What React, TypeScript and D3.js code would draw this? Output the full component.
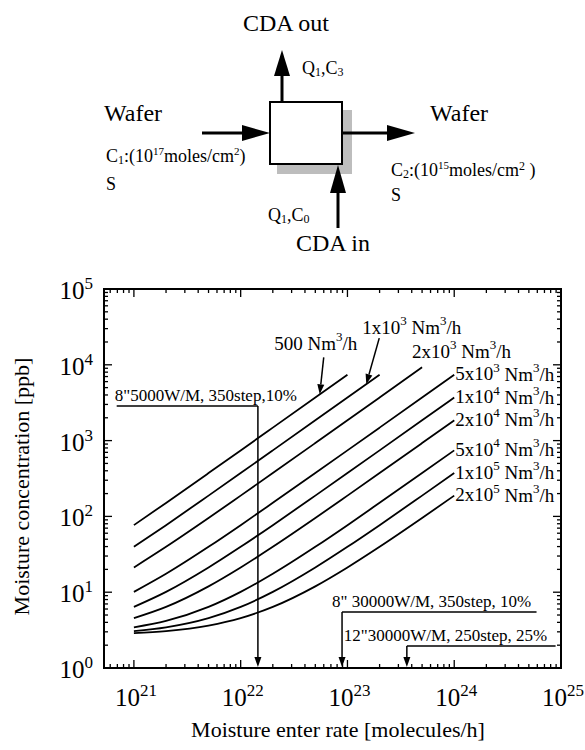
import React from 'react';
import * as d3 from 'd3';

const serif = '"Liberation Serif", "Times New Roman", Times, serif';

// Moisture enter rate [molecules/h] sample points
const rates = [1e21, 2e21, 5e21, 1e22, 2e22, 5e22, 1e23, 2e23, 5e23, 1e24];
// Moisture concentration [ppb] per CDA flow
const conc500 = [76.7, 150.7, 372.7, 742.7, 1483, 3703, 7403];
const conc1k = [39.7, 76.7, 188, 373, 743, 1853, 3703, 7403];
const conc2k = [21.2, 39.7, 95.2, 188, 373, 928, 1853, 3703, 9253];
const conc5k = [10.1, 17.5, 39.7, 76.7, 151, 373, 743, 1483, 3703, 7403];
const conc10k = [6.4, 10.1, 21.2, 39.7, 76.7, 188, 373, 743, 1853, 3703];
const conc20k = [4.55, 6.4, 11.95, 21.2, 39.7, 95.2, 188, 373, 928, 1853];
const conc50k = [3.44, 4.18, 6.4, 10.1, 17.5, 39.7, 76.7, 151, 373, 743];
const conc100k = [3.07, 3.44, 4.55, 6.4, 10.1, 21.2, 39.7, 76.7, 188, 373];
const conc200k = [2.885, 3.07, 3.63, 4.55, 6.4, 11.95, 21.2, 39.7, 95.2, 188];

const seriesList = [conc500, conc1k, conc2k, conc5k, conc10k, conc20k, conc50k, conc100k, conc200k];
const flowCoef = ['500', '1x10', '2x10', '5x10', '1x10', '2x10', '5x10', '1x10', '2x10'];
const flowExp = ['', '3', '3', '3', '4', '4', '4', '5', '5'];

// arrow targets on the 500 and 1x10^3 curves
const arrowRate = [5.5e22, 1.5e23];
const arrowConc = [4073, 5553];

// annotation (production conditions)
const annoText = ['8"5000W/M, 350step,10%', '8" 30000W/M, 350step, 10%', '12"30000W/M, 250step, 25%'];
const annoRate = [1.45e22, 8.9e22, 3.6e23];
const annoLevel = [2860, 5.48, 1.95];
const annoFrom = [6.9e20, 8.9e22, 3.6e23];
const annoTo = [1.45e22, 5.9e24, 8.9e24];

const xTickExp = [21, 22, 23, 24, 25];
const yTickExp = [0, 1, 2, 3, 4, 5];

const x = d3.scaleLog().domain([Math.pow(10, 20.72), 1e25]).range([104, 561]);
const y = d3.scaleLog().domain([1, 1e5]).range([668, 289]);

const line = d3
  .line<[number, number]>()
  .x((d) => x(d[0]))
  .y((d) => y(d[1]))
  .curve(d3.curveMonotoneX);

function Arrow({ x1, y1, x2, y2, len = 10, half = 3.5, w = 1.5 }: any) {
  const a = Math.atan2(y2 - y1, x2 - x1);
  const bx = x2 - len * Math.cos(a);
  const by = y2 - len * Math.sin(a);
  const px = -Math.sin(a) * half;
  const py = Math.cos(a) * half;
  return (
    <g>
      <line x1={x1} y1={y1} x2={bx} y2={by} stroke="#000" strokeWidth={w} />
      <path d={`M${x2},${y2}L${bx + px},${by + py}L${bx - px},${by - py}Z`} fill="#000" />
    </g>
  );
}

function Diagram() {
  return (
    <g fill="#000">
      <text x={286} y={31} fontSize={24} textAnchor="middle">CDA out</text>
      {/* shading */}
      <rect x={342} y={110} width={10} height={64} fill="#bdbdbd" />
      <rect x={277} y={164} width={75} height={10} fill="#bdbdbd" />
      <rect x={270} y={102} width={72} height={62} fill="#fff" stroke="#000" strokeWidth={2} />
      <Arrow x1={282} y1={102} x2={282} y2={50} len={26} half={8} w={3} />
      <text x={302} y={74} fontSize={18}>Q<tspan fontSize={12} dy={2}>1</tspan><tspan dy={-2}>,C</tspan><tspan fontSize={12} dy={2}>3</tspan></text>
      <Arrow x1={202} y1={133} x2={270} y2={133} len={28} half={8} w={3} />
      <text x={104} y={121} fontSize={24}>Wafer</text>
      <text x={106} y={162} fontSize={18}>C<tspan fontSize={12} dy={2}>1</tspan><tspan dy={-2}>:(10</tspan><tspan fontSize={11} dy={-7}>17</tspan><tspan dy={7}>moles/cm</tspan><tspan fontSize={11} dy={-7}>2</tspan><tspan dy={7}>)</tspan></text>
      <text x={106} y={190} fontSize={18}>S</text>
      <Arrow x1={342} y1={133} x2={415} y2={133} len={28} half={8} w={3} />
      <text x={430} y={121} fontSize={24}>Wafer</text>
      <text x={391} y={176} fontSize={18}>C<tspan fontSize={12} dy={2}>2</tspan><tspan dy={-2}>:(10</tspan><tspan fontSize={11} dy={-7}>15</tspan><tspan dy={7}>moles/cm</tspan><tspan fontSize={12} dy={-6}>2</tspan><tspan dy={6}> )</tspan></text>
      <text x={391} y={201} fontSize={18}>S</text>
      <Arrow x1={338} y1={228} x2={338} y2={165} len={28} half={8} w={3} />
      <text x={268} y={221} fontSize={18}>Q<tspan fontSize={12} dy={2}>1</tspan><tspan dy={-2}>,C</tspan><tspan fontSize={12} dy={2}>0</tspan></text>
      <text x={333} y={251} fontSize={24} textAnchor="middle">CDA in</text>
    </g>
  );
}

function Axes() {
  const [x0, x1] = x.range();
  const [yb, yt] = y.range();
  const els: any[] = [];
  const xd = x.domain();
  for (let e = 20; e <= 25; e++) {
    for (let m = 1; m <= 9; m++) {
      const v = m * Math.pow(10, e);
      if (v < xd[0] * 0.999 || v > xd[1] * 1.001) continue;
      const px = x(v);
      const L = m === 1 ? 8 : 4;
      els.push(<line key={`xb${e}${m}`} x1={px} x2={px} y1={yb} y2={yb - L} stroke="#000" strokeWidth={1.3} />);
      els.push(<line key={`xt${e}${m}`} x1={px} x2={px} y1={yt} y2={yt + L} stroke="#000" strokeWidth={1.3} />);
    }
  }
  for (let e = 0; e <= 5; e++) {
    for (let m = 1; m <= 9; m++) {
      const v = m * Math.pow(10, e);
      if (v > 1e5 * 1.001) continue;
      const py = y(v);
      const L = m === 1 ? 8 : 4;
      els.push(<line key={`yl${e}${m}`} x1={x0} x2={x0 + L} y1={py} y2={py} stroke="#000" strokeWidth={1.3} />);
      els.push(<line key={`yr${e}${m}`} x1={x1} x2={x1 - L} y1={py} y2={py} stroke="#000" strokeWidth={1.3} />);
    }
  }
  return (
    <g>
      {els}
      <rect x={x0} y={yt} width={x1 - x0} height={yb - yt} fill="none" stroke="#000" strokeWidth={2} />
      {xTickExp.map((e) => (
        <text key={`xl${e}`} x={x(Math.pow(10, e)) + 2} y={706} fontSize={25} textAnchor="middle">
          10<tspan fontSize={17} dy={-10}>{e}</tspan>
        </text>
      ))}
      {yTickExp.map((e) => (
        <text key={`yl${e}`} x={93} y={y(Math.pow(10, e)) + 10} fontSize={25} textAnchor="end">
          10<tspan fontSize={17} dy={-10}>{e}</tspan>
        </text>
      ))}
      <text x={338} y={737} fontSize={22} textAnchor="middle">Moisture enter rate [molecules/h]</text>
      <text transform={`translate(29,${(yb + yt) / 2 + 8}) rotate(-90)`} fontSize={22} textAnchor="middle">
        Moisture concentration [ppb]
      </text>
    </g>
  );
}

function FlowLabel({ i, px, py, anchor = 'start' }: any) {
  return (
    <text x={px} y={py} fontSize={19} textAnchor={anchor} dominantBaseline="central">
      {flowCoef[i]}
      {flowExp[i] ? <tspan fontSize={13} dy={-7}>{flowExp[i]}</tspan> : null}
      <tspan dy={flowExp[i] ? 7 : 0}> Nm</tspan>
      <tspan fontSize={13} dy={-7}>3</tspan>
      <tspan dy={7}>/h</tspan>
    </text>
  );
}

function Curves() {
  return (
    <g>
      {seriesList.map((s, i) => {
        const pts = s.map((c, j) => [rates[j], c] as [number, number]);
        return <path key={i} d={line(pts) || ''} fill="none" stroke="#000" strokeWidth={1.8} />;
      })}
      {[3, 4, 5, 6, 7, 8].map((i) => {
        const s = seriesList[i];
        const last = s.length - 1;
        return <FlowLabel key={i} i={i} px={x(rates[last]) + 1} py={y(s[last]) - 1} />;
      })}
      <Arrow x1={x(arrowRate[0]) + 4} y1={y(arrowConc[0]) - 37} x2={x(arrowRate[0])} y2={y(arrowConc[0])} len={10} half={3.5} />
      <FlowLabel i={0} px={x(arrowRate[0]) - 4} py={y(arrowConc[0]) - 51} anchor="middle" />
      <Arrow x1={x(arrowRate[1]) + 13} y1={y(arrowConc[1]) - 46} x2={x(arrowRate[1])} y2={y(arrowConc[1])} len={10} half={3.5} />
      <FlowLabel i={1} px={x(arrowRate[1]) - 4} py={y(arrowConc[1]) - 57} anchor="start" />
      <FlowLabel i={2} px={x(rates[8]) - 10} py={y(conc2k[8]) - 16} anchor="start" />
    </g>
  );
}

function Annotations() {
  return (
    <g>
      {annoText.map((t, i) => {
        const ly = y(annoLevel[i]);
        const ax = x(annoRate[i]);
        const xa = x(annoFrom[i]);
        const xb = x(annoTo[i]);
        const textX = i === 0 ? xa - 2 : i === 1 ? ax - 10 : ax - 63;
        return (
          <g key={i}>
            <line x1={xa} x2={xb} y1={ly} y2={ly} stroke="#000" strokeWidth={1.5} />
            <Arrow x1={ax} y1={ly} x2={ax} y2={y(1) - 1} len={10} half={3.5} />
            <text x={textX} y={ly - 5} fontSize={17}>{t}</text>
          </g>
        );
      })}
    </g>
  );
}

export default function App() {
  return (
    <svg
      width={585}
      height={750}
      fontFamily={serif}
      style={{ position: 'absolute', left: 0, top: 0, background: '#fff', fontFamily: serif }}
    >
      <rect width={585} height={750} fill="#fff" />
      <Diagram />
      <Curves />
      <Annotations />
      <Axes />
    </svg>
  );
}
